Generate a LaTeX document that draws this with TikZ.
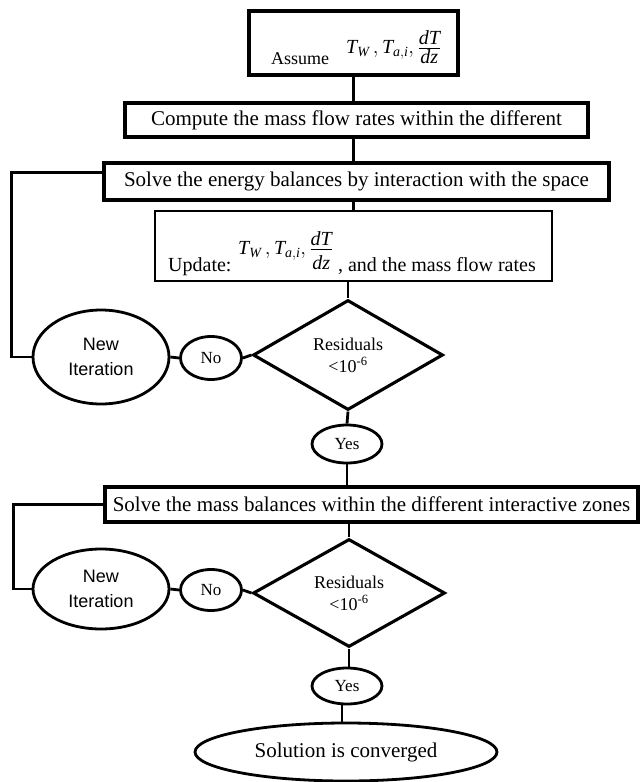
\documentclass[tikz,border=0pt]{standalone}
\usepackage{fontspec}
\setmainfont{Liberation Serif}
\newfontfamily\arialf{Liberation Sans}
\usetikzlibrary{shapes.geometric}
\newcommand{\mfrac}[2]{{\textstyle\frac{\displaystyle #1}{\displaystyle #2}}}
\begin{document}
\begin{tikzpicture}[x=1pt,y=-1pt,
  box/.style={draw,line width=3.2pt,rectangle,inner sep=0pt,font=\fontsize{21}{24}\selectfont},
  txt/.style={inner sep=0pt,font=\fontsize{20}{24}\selectfont},
  ell/.style={draw,line width=2.8pt,ellipse,inner sep=0pt},
  dia/.style={draw,line width=3.1pt,diamond,inner sep=0pt,align=center,font=\fontsize{18}{24}\selectfont},
  small/.style={font=\fontsize{17}{20}\selectfont},
  newit/.style={ell,align=center,font=\arialf\fontsize{18}{25}\selectfont},
  conn/.style={line width=2.8pt}]
\useasboundingbox[fill=white] (0,0) rectangle (640,782);

% boxes
\node[box,minimum width=209,minimum height=64] (assume) at (353.5,43) {};
\node[txt,anchor=base west,font=\fontsize{18}{22}\selectfont] (assumeT) at (271,64) {Assume};
\node[txt,anchor=base west] (assumeM) at (346,53)
  {$\mathit{T}_{\mathit{W}}\,,\mathit{T}_{\mathit{a,i}},\mfrac{\mathit{dT}}{\mathit{dz}\rule{0pt}{15pt}}$};

\node[box,minimum width=463,minimum height=34] (compute) at (356.5,120)
  {Compute the mass flow rates within the different};
\node[box,minimum width=505,minimum height=37] (energy) at (356.5,181.5)
  {Solve the energy balances by interaction with the space};
\node[box,line width=2.6pt,minimum width=397,minimum height=70] (update) at (353.5,246) {};
\node[txt,anchor=base west] (updateT) at (168,271)
  {Update: \raisebox{17pt}{$\mathit{T}_{\mathit{W}}\,,\mathit{T}_{\mathit{a,i}},\mfrac{\mathit{dT}}{\mathit{dz}\rule{0pt}{20pt}}$} , and the mass flow rates};

% first loop
\node[dia,minimum width=190,minimum height=110] (dia1) at (348,355)
  {Residuals\\[-2pt]<10\textsuperscript{-6}};
\node[ell,small,minimum width=61,minimum height=43] (no1) at (211,358) {No};
\node[newit,minimum width=136,minimum height=94] (new1) at (101,357) {New\\Iteration};
\node[ell,small,minimum width=70,minimum height=38] (yes1) at (347,444) {Yes};

\node[box,minimum width=533,minimum height=35] (mass) at (371.5,504.5)
  {Solve the mass balances within the different interactive zones};

% second loop
\node[dia,minimum width=192,minimum height=108] (dia2) at (349,593)
  {Residuals\\[-2pt]<10\textsuperscript{-6}};
\node[ell,small,minimum width=61,minimum height=41] (no2) at (211,590) {No};
\node[newit,minimum width=136,minimum height=80] (new2) at (101,589) {New\\Iteration};
\node[ell,small,minimum width=70,minimum height=36] (yes2) at (347,686) {Yes};

\node[ell,minimum width=302,minimum height=58,font=\fontsize{21}{24}\selectfont] (sol) at (346,752)
  {Solution is converged};

% connectors
\draw[conn] (assume.south) -- (assume.south |- compute.north);
\draw[conn] (assume.south |- compute.south) -- (assume.south |- energy.north);
\draw[conn] (update.north |- energy.south) -- (update.north);
\draw[conn] (dia1.north |- update.south) -- (dia1.north);
\draw[conn] (dia1.south) -- (yes1.north);
\draw[conn] (yes1.south) -- (yes1.south |- mass.north);
\draw[conn] (dia2.north |- mass.south) -- (dia2.north);
\draw[conn] (dia2.south) -- (dia2.south |- yes2.north);
\draw[conn] ([xshift=-5pt]yes2.south) -- ([xshift=-5pt]yes2.south |- sol.north);

\draw[conn] (dia1.west) -- (no1.east);
\draw[conn] (no1.west) -- (new1.east);
\draw[conn] ([yshift=9pt]energy.west) -- ++(-91,0) |- (new1.west);

\draw[conn] (dia2.west) -- (no2.east);
\draw[conn] (no2.west) -- (new2.east);
\draw[conn] (mass.west) -- ++(-90,0) |- (new2.west);
\end{tikzpicture}
\end{document}
